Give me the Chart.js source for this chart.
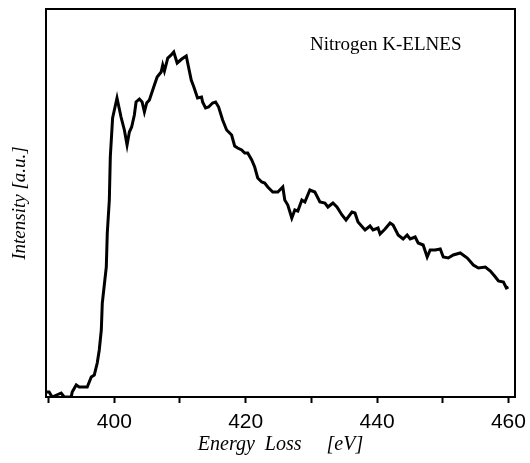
<!DOCTYPE html>
<html>
<head>
<meta charset="utf-8">
<script src="https://cdn.jsdelivr.net/npm/chart.js@4/dist/chart.umd.min.js"></script>
<style>
  html, body { margin: 0; padding: 0; background: #fff; }
  #wrap { width: 530px; height: 463px; }
</style>
</head>
<body>
<div id="wrap"><canvas id="c"></canvas></div>
<script>
// Nitrogen K-edge ELNES spectrum: energy loss (eV) and intensity (arbitrary units)
const energy = [
  389.7, 390.08, 390.53, 391.91, 392.37, 393.44, 393.59, 394.20, 394.66, 395.88,
  396.49, 396.95, 397.40, 397.71, 398.02, 398.17, 398.78, 398.93, 399.24, 399.39,
  399.74, 400.41, 401.02, 401.53, 401.94, 402.29, 402.64, 403.05, 403.31, 403.82,
  404.23, 404.58, 404.93, 405.34, 406.00, 406.52, 407.13, 407.37, 407.63, 408.14,
  408.66, 409.05, 409.57, 410.27, 410.95, 411.71, 412.11, 412.67, 413.28, 413.44,
  413.89, 414.35, 414.96, 415.42, 415.88, 416.49, 417.10, 417.86, 418.32, 418.78,
  419.39, 419.85, 420.31, 420.92, 421.37, 421.83, 422.44, 422.90, 423.36, 424.12,
  424.89, 425.65, 425.95, 426.41, 427.02, 427.48, 427.94, 428.55, 429.01, 429.77,
  430.53, 431.30, 432.06, 432.52, 433.28, 433.89, 434.66, 435.27, 436.18, 436.64,
  437.10, 438.17, 438.93, 439.39, 440.15, 440.46, 441.22, 441.98, 442.44, 443.21,
  443.97, 444.58, 445.04, 445.80, 446.26, 447.02, 447.63, 448.09, 448.85, 449.62,
  450.08, 450.84, 451.60, 452.67, 453.74, 454.66, 455.42, 456.49, 457.25, 458.02,
  458.47, 459.24, 459.69, 460.00
];
const intensity = [
  5, 5, 0, 4, 0, 0, 5, 12, 10, 10,
  20, 22, 34, 47, 67, 94, 130, 164, 197, 240,
  279, 299, 280, 267, 252, 265, 270, 282, 295, 298,
  295, 285, 294, 297, 310, 320, 325, 332, 326, 339,
  342, 345, 334, 338, 341, 317, 310, 299, 300, 295,
  289, 290, 294, 295, 290, 277, 267, 262, 251, 249,
  247, 244, 244, 237, 230, 219, 215, 214, 210, 205,
  205, 210, 197, 192, 179, 187, 186, 197, 195, 207,
  205, 195, 194, 190, 194, 190, 182, 177, 185, 184,
  175, 167, 171, 167, 169, 163, 168, 174, 172, 162,
  158, 162, 158, 160, 154, 152, 140, 147, 147, 148,
  140, 139, 142, 144, 139, 132, 129, 130, 126, 120,
  116, 115, 109, 110
];

// x-axis tick marks every 10 eV, labelled every 20 eV
const xTickValues = [390, 400, 410, 420, 430, 440, 450, 460];
const xTickLabels = [400, 420, 440, 460];

const xTitle = 'Energy  Loss     [eV]';
const yTitle = 'Intensity [a.u.]';
const panelLabel = 'Nitrogen K-ELNES';

const points = energy.map((e, i) => ({ x: e, y: intensity[i] }));

// closes the plot frame on the top and right sides
const framePlugin = {
  id: 'frame',
  afterDraw(chart) {
    const { ctx, chartArea: a } = chart;
    ctx.save();
    ctx.strokeStyle = '#000';
    ctx.lineWidth = 2;
    ctx.strokeRect(a.left, a.top, a.right - a.left, a.bottom - a.top);
    ctx.restore();
  }
};

// label inside the plot, upper right
const panelLabelPlugin = {
  id: 'panelLabel',
  afterDraw(chart) {
    const { ctx, chartArea: a } = chart;
    ctx.save();
    ctx.fillStyle = '#000';
    ctx.font = '19px "Liberation Serif", "Times New Roman", serif';
    ctx.textAlign = 'left';
    ctx.textBaseline = 'alphabetic';
    ctx.fillText(panelLabel, a.left + 264, a.top + 41);
    ctx.restore();
  }
};

new Chart(document.getElementById('c'), {
  type: 'line',
  data: {
    datasets: [{
      data: points,
      borderColor: '#000',
      borderWidth: 3,
      pointRadius: 0,
      tension: 0,
      fill: false
    }]
  },
  options: {
    responsive: true,
    maintainAspectRatio: false,
    animation: false,
    devicePixelRatio: 1,
    layout: { padding: { left: 0, top: 9, right: 15, bottom: 0 } },
    plugins: { legend: { display: false }, tooltip: { enabled: false } },
    scales: {
      x: {
        type: 'linear',
        min: 389.6,
        max: 461,
        afterBuildTicks(scale) {
          scale.ticks = xTickValues.map(v => ({ value: v }));
        },
        afterFit(scale) {
          // the end labels may overhang into the page margin
          scale.paddingLeft = 0;
          scale.paddingRight = 0;
          scale.height = 66;
        },
        ticks: {
          includeBounds: false,
          autoSkip: false,
          maxRotation: 0,
          padding: 9,
          color: '#000',
          font: { family: '"Liberation Sans", Arial, sans-serif', size: 21, lineHeight: 1 },
          callback: v => (xTickLabels.includes(v) ? String(v) : '')
        },
        grid: {
          display: true,
          drawOnChartArea: false,
          drawTicks: true,
          tickLength: 6,
          tickWidth: 2,
          color: '#000'
        },
        border: { display: true, color: '#000', width: 2 },
        title: {
          display: true,
          text: xTitle,
          color: '#000',
          font: { family: '"Liberation Serif", "Times New Roman", serif', size: 20, style: 'italic', lineHeight: 1 },
          padding: { top: 0, bottom: 8 }
        }
      },
      y: {
        min: 0,
        max: 388,
        ticks: { display: false },
        grid: { display: false, drawTicks: false },
        border: { display: true, color: '#000', width: 2 },
        title: {
          display: true,
          text: yTitle,
          color: '#000',
          font: { family: '"Liberation Serif", "Times New Roman", serif', size: 19, style: 'italic', lineHeight: 1.2 },
          padding: { top: 9, bottom: 14.2 }
        }
      }
    }
  },
  plugins: [framePlugin, panelLabelPlugin]
});
</script>
</body>
</html>
